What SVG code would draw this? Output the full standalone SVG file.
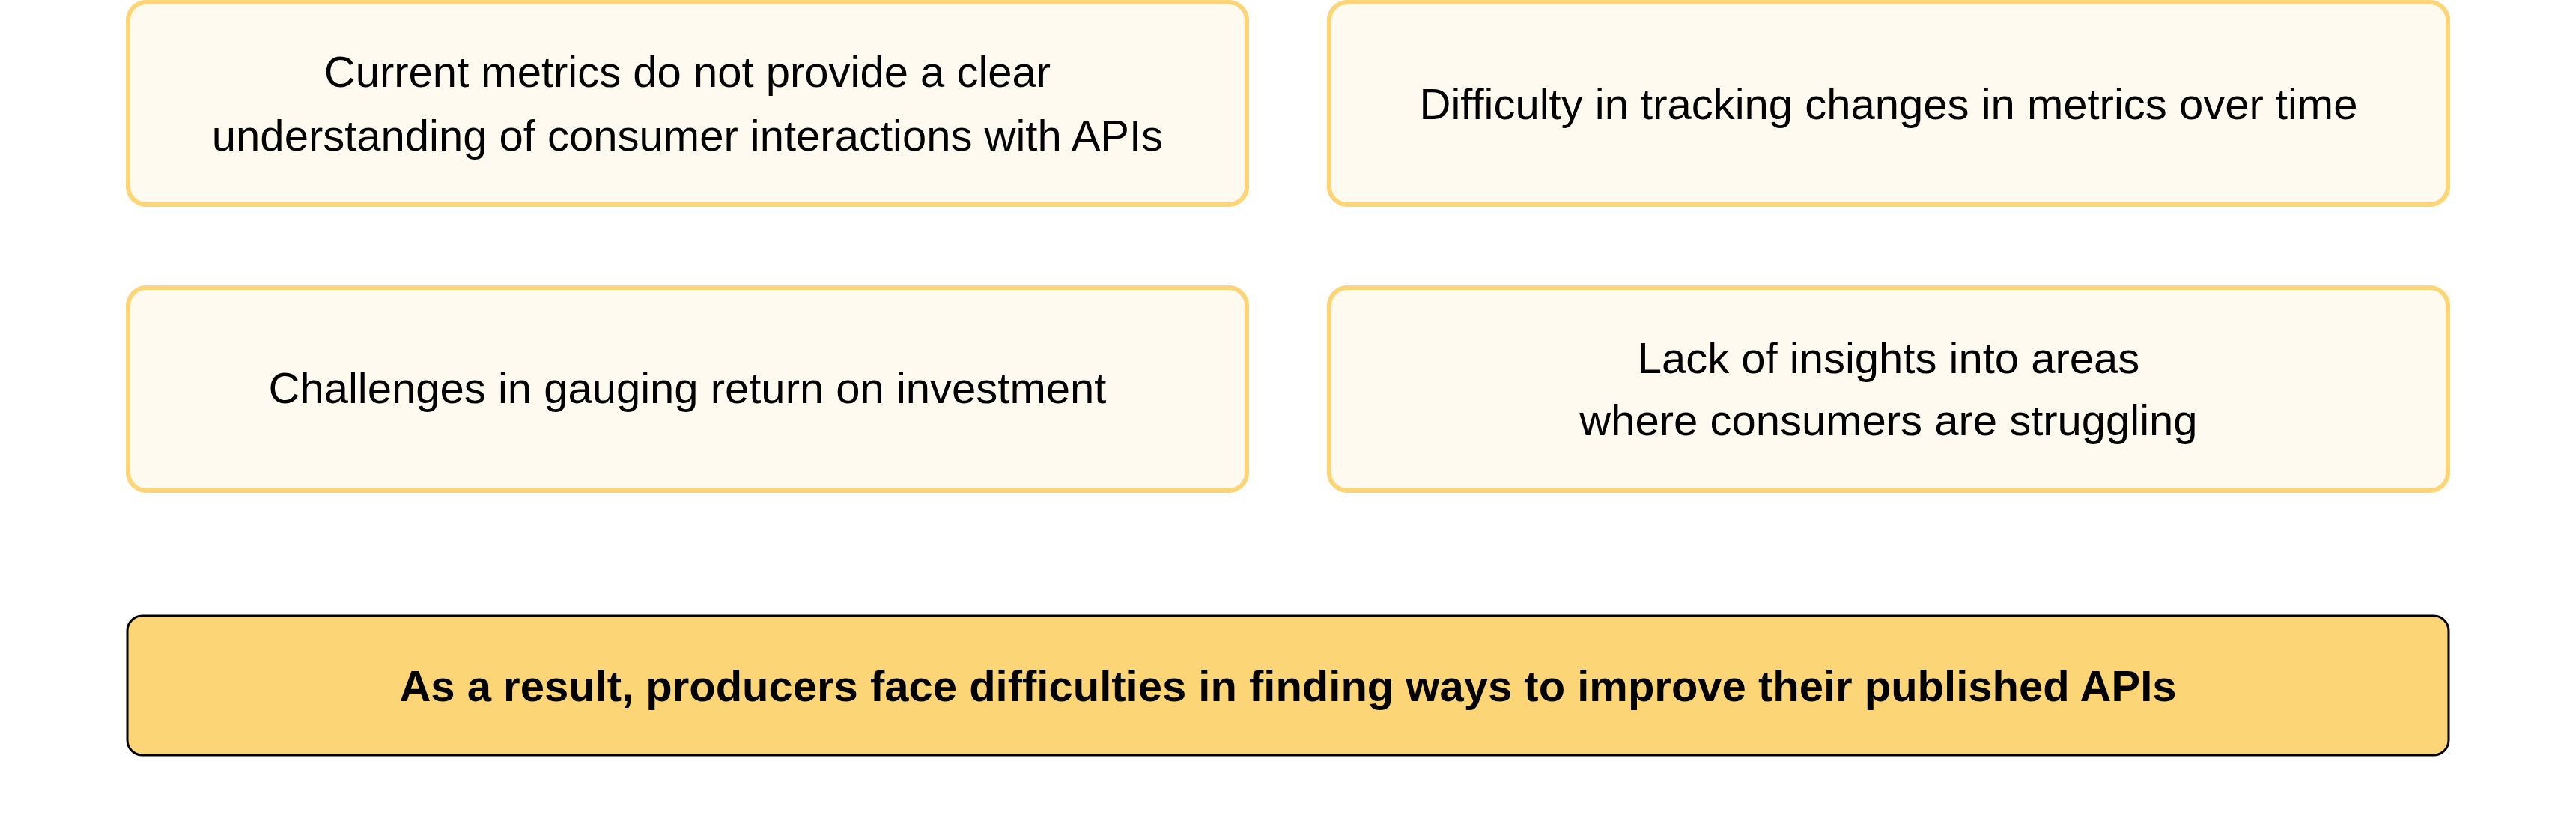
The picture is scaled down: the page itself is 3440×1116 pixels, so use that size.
<svg xmlns="http://www.w3.org/2000/svg" width="3440" height="1116" viewBox="0 0 3440 1116">
<style>
.card{fill:#fefaef;stroke:#fdd576;stroke-width:6}
.result{fill:#fcd577;stroke:#000;stroke-width:3}
.t{font-family:"Liberation Sans",Arial,sans-serif;font-size:58px;fill:#000;text-anchor:middle}
.b{font-weight:bold}
</style>
<rect width="3440" height="1116" fill="#ffffff"/>
<g id="node-metrics">
<rect class="card" x="171" y="3" width="1494" height="270" rx="24"/>
<text class="t" x="918" y="116">Current metrics do not provide a clear</text>
<text class="t" x="918" y="201">understanding of consumer interactions with APIs</text>
</g>
<g id="node-tracking">
<rect class="card" x="1775" y="3" width="1494" height="270" rx="24"/>
<text class="t" x="2522" y="159">Difficulty in tracking changes in metrics over time</text>
</g>
<g id="node-roi">
<rect class="card" x="171" y="384" width="1494" height="271" rx="24"/>
<text class="t" x="918" y="538">Challenges in gauging return on investment</text>
</g>
<g id="node-insights">
<rect class="card" x="1775" y="384" width="1494" height="271" rx="24"/>
<text class="t" x="2522" y="498">Lack of insights into areas</text>
<text class="t" x="2522" y="581">where consumers are struggling</text>
</g>
<g id="node-result">
<rect class="result" x="170" y="822" width="3100" height="186" rx="20"/>
<text class="t b" x="1720" y="936">As a result, producers face difficulties in finding ways to improve their published APIs</text>
</g>
<g id="connectors"></g>
</svg>
